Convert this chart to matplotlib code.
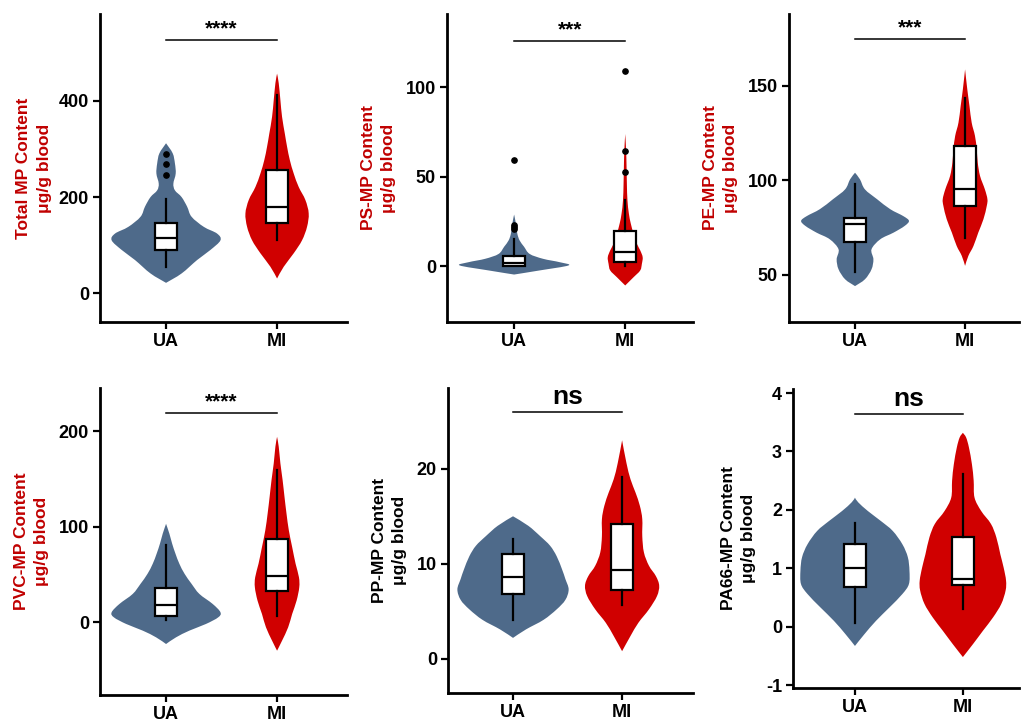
import matplotlib
matplotlib.use('Agg')
import matplotlib.pyplot as plt
from matplotlib.path import Path
from matplotlib.patches import PathPatch

plt.rcParams['font.family'] = ['Liberation Sans', 'DejaVu Sans']
plt.rcParams['axes.unicode_minus'] = False

# ---------------- data ----------------
groups = ['UA', 'MI']
ua_color = '#4E6A8A'
mi_color = '#D00000'
red_label = '#C00000'

panel_names = ['Total', 'PS', 'PE', 'PVC', 'PP', 'PA66']
ylabels = ['Total MP Content\nμg/g blood', 'PS-MP Content\nμg/g blood',
           'PE-MP Content\nμg/g blood', 'PVC-MP Content\nμg/g blood',
           'PP-MP Content\nμg/g blood', 'PA66-MP Content\nμg/g blood']
ylabel_colors = [red_label, red_label, red_label, red_label, 'black', 'black']
sig_texts = ['****', '***', '***', '****', 'ns', 'ns']
sig_line_y = [527, 126, 175, 219, 26.0, 3.64]
yticks = [[0, 200, 400], [0, 50, 100], [50, 100, 150], [0, 100, 200], [0, 10, 20], [-1, 0, 1, 2, 3, 4]]
ylims = [(-60, 581), (-31, 141), (25, 188), (-76, 245), (-3.6, 28.5), (-1.05, 4.07)]

# violin outlines (value levels and half-widths)
total_ua_y = [21.5, 41, 69, 90, 110, 124, 138, 159, 180, 200, 214, 228, 249, 270, 291, 312]
total_ua_w = [0, 0.14, 0.28, 0.40, 0.49, 0.46, 0.34, 0.23, 0.19, 0.14, 0.08, 0.066, 0.087, 0.08, 0.06, 0]
total_mi_y = [30.5, 55, 83, 110, 138, 166, 194, 221, 249, 277, 305, 332, 367, 402, 437, 457]
total_mi_w = [0, 0.06, 0.15, 0.225, 0.27, 0.285, 0.255, 0.195, 0.15, 0.115, 0.09, 0.07, 0.045, 0.03, 0.015, 0]

ps_ua_y = [-4.5, -2.2, 0.6, 2.4, 4.3, 7, 11, 14.5, 18, 22, 26, 29]
ps_ua_w = [0, 0.23, 0.49, 0.41, 0.26, 0.14, 0.09, 0.05, 0.03, 0.02, 0.01, 0]
ps_mi_y = [-10.6, -6, -2.2, 1.5, 5.2, 9, 12.7, 18.3, 24, 29.5, 37, 46, 55.6, 65, 74]
ps_mi_w = [0, 0.075, 0.135, 0.15, 0.157, 0.135, 0.105, 0.075, 0.05, 0.033, 0.02, 0.015, 0.012, 0.008, 0]

pe_ua_y = [44, 47.6, 52.9, 58.2, 63.5, 68.8, 72.3, 75.8, 78.5, 81, 84.7, 90, 95.2, 100.5, 104]
pe_ua_w = [0, 0.09, 0.15, 0.167, 0.15, 0.23, 0.35, 0.45, 0.49, 0.44, 0.32, 0.2, 0.09, 0.045, 0]
pe_mi_y = [54.7, 60, 65.2, 72.3, 79.4, 86.4, 90, 95.2, 102.3, 109.4, 116.4, 123.5, 130.5, 139.3, 148.2, 158.7]
pe_mi_w = [0, 0.03, 0.076, 0.12, 0.167, 0.197, 0.203, 0.18, 0.136, 0.115, 0.106, 0.09, 0.06, 0.04, 0.02, 0]

pvc_ua_y = [-22.7, -15.7, -8.7, -1.7, 5.2, 10.5, 19.2, 29.7, 40.2, 50.7, 61.2, 71.7, 82.2, 92.7, 103]
pvc_ua_w = [0, 0.09, 0.21, 0.36, 0.47, 0.49, 0.42, 0.30, 0.23, 0.167, 0.12, 0.085, 0.055, 0.03, 0]
pvc_mi_y = [-29.7, -19.2, -5.2, 8.7, 22.7, 36.7, 47.2, 61.2, 78.7, 96.2, 113.7, 131.2, 148.7, 166.2, 183.7, 194]
pvc_mi_w = [0, 0.045, 0.1, 0.136, 0.176, 0.2, 0.197, 0.167, 0.136, 0.106, 0.085, 0.067, 0.05, 0.03, 0.015, 0]

pp_ua_y = [2.2, 3.1, 4.1, 5.2, 6.2, 7.3, 8.4, 9.4, 10.8, 11.9, 12.9, 14.0, 15.0]
pp_ua_w = [0, 0.12, 0.28, 0.40, 0.48, 0.51, 0.48, 0.45, 0.40, 0.34, 0.25, 0.14, 0]
pp_mi_y = [0.8, 2.4, 3.8, 5.2, 6.6, 7.7, 8.7, 9.8, 11.2, 12.9, 14.7, 16.1, 17.5, 18.9, 20.6, 23.0]
pp_mi_w = [0, 0.077, 0.15, 0.246, 0.32, 0.34, 0.31, 0.246, 0.2, 0.185, 0.185, 0.163, 0.123, 0.077, 0.04, 0]

pa_ua_y = [-0.33, -0.13, 0.1, 0.33, 0.56, 0.73, 0.96, 1.19, 1.41, 1.64, 1.81, 1.98, 2.13, 2.21]
pa_ua_w = [0, 0.087, 0.195, 0.32, 0.44, 0.5, 0.505, 0.49, 0.44, 0.35, 0.24, 0.12, 0.03, 0]
pa_mi_y = [-0.52, -0.3, -0.07, 0.16, 0.39, 0.62, 0.79, 1.01, 1.24, 1.53, 1.76, 1.98, 2.21, 2.5, 2.78, 3.07, 3.24, 3.32]
pa_mi_w = [0, 0.093, 0.186, 0.28, 0.356, 0.396, 0.4, 0.378, 0.347, 0.31, 0.26, 0.17, 0.108, 0.1, 0.084, 0.056, 0.03, 0]

# box statistics: whisker low, Q1, median, Q3, whisker high
total_ua_box = [55, 90, 114, 145, 197]
total_mi_box = [110, 145, 180, 257, 412]
ps_ua_box = [0, 0.5, 2, 5.6, 15.5]
ps_mi_box = [0, 2.4, 8, 19.6, 37]
pe_ua_box = [51.5, 67.4, 76.7, 79.9, 97.9]
pe_mi_box = [69.7, 86.4, 95.6, 118.2, 143.7]
pvc_ua_box = [2.5, 7, 18.2, 36, 80.5]
pvc_mi_box = [7, 32.5, 48.3, 87.5, 159]
pp_ua_box = [4.1, 6.8, 8.6, 11.0, 12.6]
pp_mi_box = [5.7, 7.2, 9.3, 14.2, 19.1]
pa_ua_box = [0.07, 0.68, 1.0, 1.41, 1.77]
pa_mi_box = [0.3, 0.71, 0.82, 1.53, 2.61]

# outliers
total_ua_out = [246, 268, 289]
total_mi_out = []
ps_ua_out = [21, 22, 23, 59.3]
ps_mi_out = [53, 64.5, 109]
empty_out = []

violins = [
    [(total_ua_y, total_ua_w), (total_mi_y, total_mi_w)],
    [(ps_ua_y, ps_ua_w), (ps_mi_y, ps_mi_w)],
    [(pe_ua_y, pe_ua_w), (pe_mi_y, pe_mi_w)],
    [(pvc_ua_y, pvc_ua_w), (pvc_mi_y, pvc_mi_w)],
    [(pp_ua_y, pp_ua_w), (pp_mi_y, pp_mi_w)],
    [(pa_ua_y, pa_ua_w), (pa_mi_y, pa_mi_w)],
]
boxes = [
    [total_ua_box, total_mi_box], [ps_ua_box, ps_mi_box], [pe_ua_box, pe_mi_box],
    [pvc_ua_box, pvc_mi_box], [pp_ua_box, pp_mi_box], [pa_ua_box, pa_mi_box],
]
outliers = [
    [total_ua_out, total_mi_out], [ps_ua_out, ps_mi_out], [empty_out, empty_out],
    [empty_out, empty_out], [empty_out, empty_out], [empty_out, empty_out],
]


def smooth_side(pts):
    """Cubic Bezier (Catmull-Rom) path pieces through the given outline points."""
    verts, codes = [], []
    n = len(pts)
    for k in range(n - 1):
        p0 = pts[k - 1] if k > 0 else pts[k]
        p1 = pts[k]
        p2 = pts[k + 1]
        p3 = pts[k + 2] if k + 2 < n else pts[k + 1]
        c1 = (p1[0] + (p2[0] - p0[0]) / 6.0, p1[1] + (p2[1] - p0[1]) / 6.0)
        c2 = (p2[0] - (p3[0] - p1[0]) / 6.0, p2[1] - (p3[1] - p1[1]) / 6.0)
        verts += [c1, c2, p2]
        codes += [Path.CURVE4] * 3
    return verts, codes


def violin_patch(center, vy, vw, color):
    right = [(center + w, y) for y, w in zip(vy, vw)]
    left = [(center - w, y) for y, w in zip(vy, vw)][::-1]
    verts = [right[0]]
    codes = [Path.MOVETO]
    v, c = smooth_side(right)
    verts += v
    codes += c
    v, c = smooth_side(left)
    verts += v
    codes += c
    verts.append(right[0])
    codes.append(Path.CLOSEPOLY)
    return PathPatch(Path(verts, codes), facecolor=color, edgecolor='none', zorder=1)


# ---------------- layout ----------------
W, H = 1021, 722
axes_rect = [
    [100 / W, 1 - 322 / H, 247 / W, 308 / H],
    [447 / W, 1 - 322 / H, 246 / W, 308 / H],
    [789 / W, 1 - 322 / H, 230 / W, 308 / H],
    [100 / W, 1 - 695 / H, 247 / W, 307 / H],
    [448 / W, 1 - 693 / H, 245 / W, 305 / H],
    [793 / W, 1 - 688 / H, 226 / W, 299 / H],
]
xlims = [(-0.595, 1.63), (-0.604, 1.61), (-0.6, 1.49), (-0.595, 1.63), (-0.596, 1.65), (-0.574, 1.52)]
labelpads = [5, 7, 7, 7, 7, 7]

fig = plt.figure(figsize=(W / 100, H / 100), dpi=100)
colors = [ua_color, mi_color]

for i in range(6):
    ax = fig.add_axes(axes_rect[i])
    for g in range(2):
        vy, vw = violins[i][g]
        ax.add_patch(violin_patch(g, vy, vw, colors[g]))
    stats = []
    for g in range(2):
        lo, q1, med, q3, hi = boxes[i][g]
        stats.append(dict(whislo=lo, q1=q1, med=med, q3=q3, whishi=hi,
                          fliers=outliers[i][g], label=groups[g]))
    ax.bxp(stats, positions=[0, 1], widths=0.2, patch_artist=True, showcaps=False,
           boxprops=dict(facecolor='white', edgecolor='black', linewidth=1.6),
           medianprops=dict(color='black', linewidth=1.6),
           whiskerprops=dict(color='black', linewidth=1.6),
           flierprops=dict(marker='o', markerfacecolor='black', markeredgecolor='black',
                           markersize=3.8),
           zorder=3)
    # significance bracket
    ax.plot([0, 1], [sig_line_y[i], sig_line_y[i]], color='black', lw=1.1, zorder=4)
    if sig_texts[i] == 'ns':
        ax.annotate('ns', xy=(0.5, sig_line_y[i]), xytext=(0, 2), textcoords='offset points',
                    ha='center', va='bottom', fontsize=19, fontweight='bold')
    else:
        ax.annotate(sig_texts[i], xy=(0.5, sig_line_y[i]), xytext=(0, 1), textcoords='offset points',
                    ha='center', va='bottom', fontsize=15, fontweight='bold')
    ax.set_xlim(*xlims[i])
    ax.set_ylim(*ylims[i])
    ax.set_xticks([0, 1])
    ax.set_xticklabels(groups)
    ax.set_yticks(yticks[i])
    ax.spines['top'].set_visible(False)
    ax.spines['right'].set_visible(False)
    ax.spines['left'].set_linewidth(2)
    ax.spines['bottom'].set_linewidth(2)
    ax.tick_params(axis='both', width=1.6, length=5, labelsize=13, pad=3)
    for lab in ax.get_xticklabels() + ax.get_yticklabels():
        lab.set_fontweight('bold')
    ax.set_ylabel(ylabels[i], color=ylabel_colors[i], fontsize=12.5, fontweight='bold',
                  labelpad=labelpads[i], linespacing=1.45)

fig.savefig('out.png', dpi=100)
